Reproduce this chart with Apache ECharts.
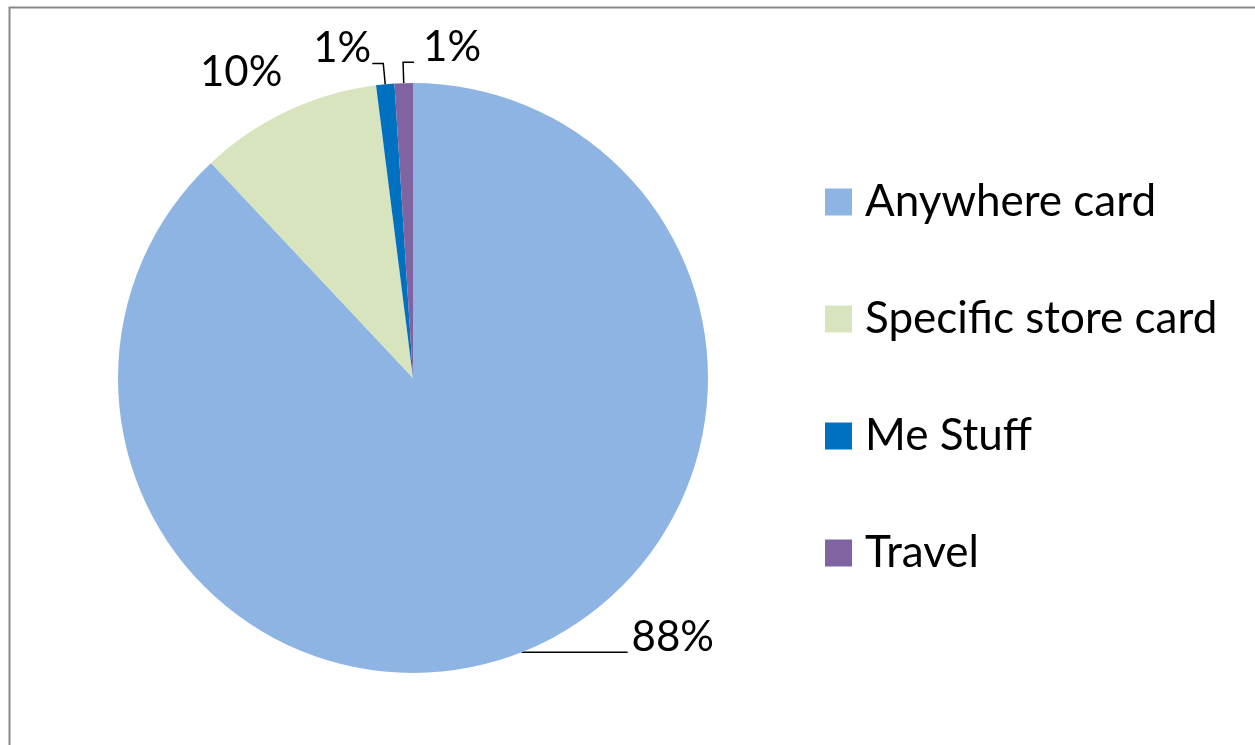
<!DOCTYPE html>
<html>
<head>
<meta charset="utf-8">
<script src="https://cdn.jsdelivr.net/npm/echarts@6/dist/echarts.min.js"></script>
<style>
html,body{margin:0;padding:0;background:#fff;}
#chart{width:1255px;height:745px;}
</style>
</head>
<body>
<div id="chart"></div>
<script>
const categories = ['Anywhere card', 'Specific store card', 'Me Stuff', 'Travel'];
const values = [88, 10, 1, 1];
const colors = ['#8EB4E3', '#D7E4BD', '#0070C0', '#8064A2'];

const FONT = 'Lato';
const LABEL_SIZE = 42;
const chart = echarts.init(document.getElementById('chart'), null, {renderer: 'canvas'});

const data = categories.map((name, i) => ({
  name: name,
  value: values[i],
  itemStyle: {color: colors[i]}
}));
data[0].labelLine = {length: 0, length2: 106};
data[1].labelLine = {show: false, length: 26, length2: 0};
data[2].labelLine = {length: 21, length2: 11};
data[3].labelLine = {length: 21, length2: 11};

chart.setOption({
  animation: false,
  backgroundColor: '#ffffff',
  graphic: [{
    type: 'rect',
    shape: {x: 9.5, y: 7.5, width: 1400, height: 900},
    style: {fill: 'none', stroke: '#888888', lineWidth: 2},
    silent: true
  }],
  legend: {
    orient: 'vertical',
    left: 825,
    top: 180,
    padding: 0,
    itemWidth: 27,
    itemHeight: 27,
    itemGap: 73,
    icon: 'rect',
    data: categories,
    textStyle: {
      fontFamily: FONT,
      fontSize: 44,
      lineHeight: 44,
      color: '#000',
      padding: [0, 0, 0, 8]
    }
  },
  series: [{
    type: 'pie',
    center: [413, 378],
    radius: [0, 295],
    startAngle: 90,
    clockwise: true,
    avoidLabelOverlap: false,
    data: data,
    itemStyle: {borderWidth: 0},
    label: {
      show: true,
      position: 'outside',
      formatter: '{d}%',
      fontFamily: FONT,
      fontSize: LABEL_SIZE,
      color: '#000',
      distanceToLabelLine: 4
    },
    labelLine: {
      show: true,
      smooth: false,
      lineStyle: {color: '#000', width: 1.5}
    },
    labelLayout: function (params) {
      const p = params.labelLinePoints;
      if (!p) return {};
      const p0 = p[0], p1 = p[1];
      let p2 = p[2];
      let rightSide = p1[0] >= p0[0];
      if (params.dataIndex === 3) {
        // label of the last thin slice sits to the right of its leader
        p2 = [p1[0] + Math.abs(p2[0] - p1[0]), p2[1]];
        rightSide = true;
      }
      let gap = 4;
      if (params.dataIndex === 1) gap = -6;
      if (params.dataIndex === 2) gap = 1;
      if (params.dataIndex === 3) gap = 9;
      const half = LABEL_SIZE * 0.36;
      return {
        x: rightSide ? p2[0] + gap : p2[0] - gap,
        y: p2[1] - half,
        align: rightSide ? 'left' : 'right',
        verticalAlign: 'middle',
        labelLinePoints: [p0, p1, p2]
      };
    }
  }]
});
</script>
</body>
</html>
